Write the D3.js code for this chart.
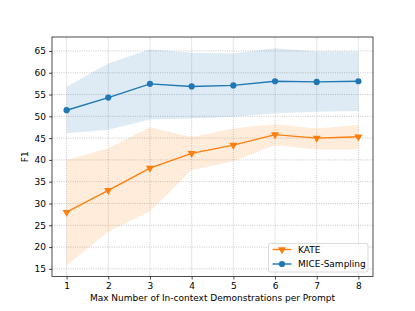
<!DOCTYPE html>
<html>
<head>
<meta charset="utf-8">
<script src="https://cdn.jsdelivr.net/npm/d3@7"></script>
<style>
  body { margin: 0; background: #fff; }
  svg { font-family: "DejaVu Sans", sans-serif; }
</style>
</head>
<body>
<div id="chart"></div>
<script>
// data
var demos = [1, 2, 3, 4, 5, 6, 7, 8];
var kateMean = [28.0, 33.0, 38.1, 41.5, 43.4, 45.8, 45.0, 45.3];
var kateUpper = [40.0, 42.7, 47.5, 45.2, 47.2, 48.2, 47.2, 48.0];
var kateLower = [15.8, 23.6, 28.2, 37.7, 39.7, 43.4, 42.4, 42.4];
var miceMean = [51.4, 54.3, 57.45, 56.85, 57.1, 58.05, 57.9, 58.05];
var miceUpper = [56.8, 62.1, 65.4, 64.6, 64.4, 65.6, 64.9, 64.9];
var miceLower = [46.1, 46.9, 49.3, 49.5, 49.9, 50.7, 51.05, 51.2];
var yTicks = [15, 20, 25, 30, 35, 40, 45, 50, 55, 60, 65];

var W = 415, H = 311;
var margin = { left: 52, right: 42, top: 37, bottom: 34.5 };

var svg = d3.select("#chart").append("svg")
    .attr("width", W)
    .attr("height", H);

var x = d3.scaleLinear().domain([0.65, 8.35]).range([margin.left, W - margin.right]);
var y = d3.scaleLinear().domain([13.25, 68.2]).range([H - margin.bottom, margin.top]);

// grid
var grid = svg.append("g").attr("stroke", "#b0b0b0").attr("stroke-width", 0.7).attr("stroke-dasharray", "1,1.3");
grid.selectAll(".gx").data(demos).enter().append("line")
    .attr("x1", d => x(d)).attr("x2", d => x(d))
    .attr("y1", margin.top).attr("y2", H - margin.bottom);
grid.selectAll(".gy").data(yTicks).enter().append("line")
    .attr("y1", d => y(d)).attr("y2", d => y(d))
    .attr("x1", margin.left).attr("x2", W - margin.right);

// bands
function band(lo, hi) {
    return d3.area()
        .x((d, i) => x(demos[i]))
        .y0((d, i) => y(lo[i]))
        .y1((d, i) => y(hi[i]))(demos);
}
svg.append("path").attr("d", band(miceLower, miceUpper)).attr("fill", "#1f77b4").attr("fill-opacity", 0.15);
svg.append("path").attr("d", band(kateLower, kateUpper)).attr("fill", "#ff7f0e").attr("fill-opacity", 0.15);

// lines
var line = d3.line().x((d, i) => x(demos[i])).y(d => y(d));
svg.append("path").datum(kateMean).attr("d", line)
    .attr("fill", "none").attr("stroke", "#ff7f0e").attr("stroke-width", 1.4);
svg.append("path").datum(miceMean).attr("d", line)
    .attr("fill", "none").attr("stroke", "#1f77b4").attr("stroke-width", 1.4);

// markers
var tri = d3.symbol().type(d3.symbolTriangle).size(28);
svg.selectAll(".kate").data(kateMean).enter().append("path")
    .attr("d", tri)
    .attr("transform", (d, i) => "translate(" + x(demos[i]) + "," + y(d) + ") rotate(180)")
    .attr("fill", "#ff7f0e");
svg.selectAll(".mice").data(miceMean).enter().append("circle")
    .attr("cx", (d, i) => x(demos[i])).attr("cy", d => y(d))
    .attr("r", 3.1).attr("fill", "#1f77b4");

// axes
var xAxis = d3.axisBottom(x).tickValues(demos).tickSize(3).tickPadding(3);
var yAxis = d3.axisLeft(y).tickValues(yTicks).tickSize(3).tickPadding(3);
var gx = svg.append("g").attr("transform", "translate(0," + (H - margin.bottom) + ")").call(xAxis);
var gy = svg.append("g").attr("transform", "translate(" + margin.left + ",0)").call(yAxis);
[gx, gy].forEach(function (g) {
    g.select(".domain").remove();
    g.selectAll("text").attr("font-size", 9).attr("fill", "#000").attr("font-family", "DejaVu Sans");
    g.selectAll("line").attr("stroke", "#000").attr("stroke-width", 0.7);
});

// frame
svg.append("rect")
    .attr("x", margin.left).attr("y", margin.top)
    .attr("width", W - margin.left - margin.right)
    .attr("height", H - margin.top - margin.bottom)
    .attr("fill", "none").attr("stroke", "#000").attr("stroke-width", 0.7);

// labels
svg.append("text")
    .attr("x", (margin.left + W - margin.right) / 2).attr("y", 301)
    .attr("text-anchor", "middle").attr("font-size", 9)
    .text("Max Number of In-context Demonstrations per Prompt");
svg.append("text")
    .attr("transform", "translate(28," + ((margin.top + H - margin.bottom) / 2) + ") rotate(-90)")
    .attr("text-anchor", "middle").attr("font-size", 9)
    .text("F1");

// legend
var lg = svg.append("g").attr("transform", "translate(268.5,243.5)");
lg.append("rect").attr("width", 99.5).attr("height", 28.5).attr("rx", 2)
    .attr("fill", "#fff").attr("fill-opacity", 0.8).attr("stroke", "#ccc").attr("stroke-width", 0.7);
var entries = [
    { name: "KATE", color: "#ff7f0e", tri: true },
    { name: "MICE-Sampling", color: "#1f77b4", tri: false }
];
entries.forEach(function (e, i) {
    var yy = 6 + i * 14.5;
    lg.append("line").attr("x1", 4).attr("x2", 23).attr("y1", yy).attr("y2", yy)
        .attr("stroke", e.color).attr("stroke-width", 1.4);
    if (e.tri) {
        lg.append("path").attr("d", tri).attr("transform", "translate(13.5," + yy + ") rotate(180)").attr("fill", e.color);
    } else {
        lg.append("circle").attr("cx", 13.5).attr("cy", yy).attr("r", 3.1).attr("fill", e.color);
    }
    lg.append("text").attr("x", 29.5).attr("y", yy + 3.2).attr("font-size", 9).text(e.name);
});
</script>
</body>
</html>
